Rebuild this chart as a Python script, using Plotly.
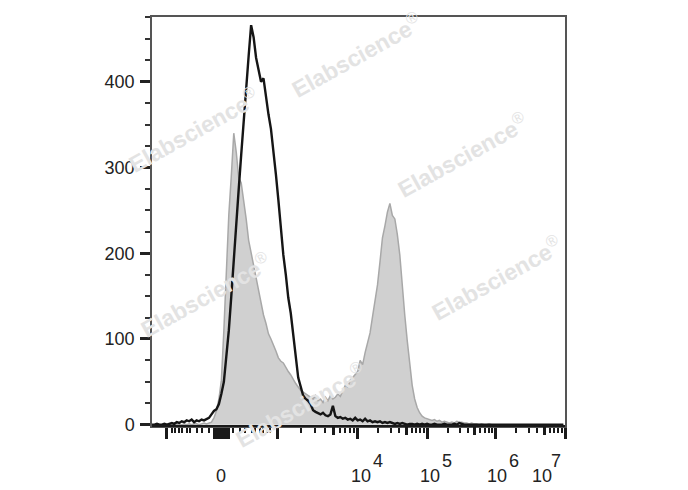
import math
import plotly.graph_objects as go

# ---------------- data (display channel scale 0..1000, bin width 6) ----------------
channel = list(range(0, 1001, 6))  # 167 bins

black_counts = [
    0, 0, 1, 0, 0, 1, 0, 1, 2, 1,
    3, 2, 4, 3, 5, 4, 6, 3, 5, 4,
    6, 5, 7, 8, 12, 16, 18, 24, 36, 50,
    80, 110, 150, 195, 240, 275, 315, 350, 390, 430,
    466, 452, 428, 415, 400, 404, 382, 362, 345, 320,
    292, 262, 228, 198, 175, 148, 130, 102, 80, 55,
    44, 34, 30, 28, 24, 17, 15, 13, 12, 14,
    11, 10, 12, 22, 10, 8, 9, 7, 8, 6,
    7, 5, 8, 5, 6, 4, 7, 4, 5, 3,
    4, 3, 4, 2, 3, 2, 3, 2, 1, 2,
    1, 2, 1, 0, 1, 1, 0, 1, 0, 1,
    0, 1, 0, 0, 1, 0, 0, 0, 1, 0,
    0, 0, 1, 0, 2, 1, 0, 0, 0, 0,
    0, 0, 0, 0, 0, 0, 0, 0, 0, 0,
    0, 0, 0, 0, 0, 0, 0, 0, 0, 0,
    0, 0, 0, 0, 0, 0, 0, 0, 0, 0,
    0, 0, 0, 0, 0, 0, 0,
]

gray_counts = [
    0, 0, 0, 0, 0, 0, 0, 0, 0, 0,
    1, 0, 0, 1, 0, 1, 0, 1, 1, 0,
    1, 2, 1, 2, 3, 8, 16, 30, 52, 110,
    175, 245, 290, 340, 318, 288, 282, 262, 240, 215,
    200, 184, 172, 155, 140, 128, 118, 106, 100, 94,
    86, 78, 74, 72, 66, 62, 58, 52, 48, 44,
    40, 38, 36, 34, 32, 30, 34, 28, 30, 26,
    32, 28, 34, 30, 32, 36, 33, 40, 46, 44,
    52, 55, 58, 62, 75, 70, 84, 95, 107, 126,
    145, 163, 190, 218, 232, 248, 258, 244, 240, 222,
    198, 160, 128, 98, 72, 46, 30, 20, 14, 10,
    8, 7, 6, 5, 6, 4, 5, 3, 4, 3,
    2, 3, 2, 4, 3, 3, 2, 2, 1, 2,
    1, 1, 0, 1, 0, 0, 1, 0, 0, 0,
    0, 0, 0, 0, 0, 0, 0, 0, 0, 0,
    0, 0, 0, 0, 0, 0, 0, 0, 0, 0,
    0, 0, 0, 0, 0, 0, 0,
]

# axis decades (channel positions) and their labels
decade_names = ["-10^3", "0", "10^3", "10^4", "10^5", "10^6", "10^7"]
decade_channels = [36.3, 167.1, 302.7, 497.6, 665.9, 831.7, 1000.0]
label_bases = ["0", "10", "10", "10", "10"]
label_exponents = ["", "4", "5", "6", "7"]

y_major = [0, 100, 200, 300, 400]
y_minor = [v for v in range(25, 476, 25) if v % 100]

# ---------------- tick geometry ----------------
PX = 2.4213  # channels per pixel
zero = decade_channels[1]
near_zero_px = [12, 19, 24, 31, 34, 39, 42, 46, 49]      # +-100..900
cluster_px = [1, 2.5, 4, 5.5, 7]                          # +-10..90 (dense)

major_ticks = list(decade_channels)
major_ticks += [zero + s * p * PX for p in cluster_px for s in (1, -1)]
minor_ticks = [zero + s * p * PX for p in near_zero_px for s in (1, -1)]
medium_ticks = []
for k in range(2, 6):
    a, b = decade_channels[k], decade_channels[k + 1]
    for m in range(2, 10):
        pos = a + math.log10(m) * (b - a)
        (medium_ticks if m == 5 else minor_ticks).append(pos)

FONT = "Liberation Sans, Arial, Helvetica, sans-serif"

fig = go.Figure()
fig.add_trace(go.Scatter(
    x=channel, y=gray_counts, mode="lines", fill="tozeroy",
    fillcolor="#d0d0d0", line=dict(color="#a8a8a8", width=1.5),
    showlegend=False, hoverinfo="skip"))
fig.add_trace(go.Scatter(
    x=channel, y=black_counts, mode="lines",
    line=dict(color="#151515", width=2.4),
    showlegend=False, hoverinfo="skip"))
fig.add_trace(go.Scatter(x=[500], y=[-100], xaxis="x2", mode="markers",
                         marker=dict(opacity=0), showlegend=False, hoverinfo="skip"))

L, R, T, B = 152, 565, 17, 426
W, H = 688, 490

fig.update_layout(
    width=W, height=H,
    margin=dict(l=L, r=W - R, t=T, b=H - B, pad=0),
    paper_bgcolor="white", plot_bgcolor="white",
    font=dict(family=FONT, size=18, color="#222"),
    xaxis=dict(
        range=[0, 1000], showgrid=False, zeroline=False,
        showline=True, linecolor="#555", linewidth=1.5, mirror=True,
        ticks="outside", tickmode="array", tickvals=major_ticks,
        ticklen=11, tickwidth=2.5, tickcolor="#1a1a1a",
        showticklabels=False,
        minor=dict(ticks="outside", tickmode="array", tickvals=minor_ticks,
                   ticklen=5, tickwidth=2, tickcolor="#1a1a1a", showgrid=False),
    ),
    xaxis2=dict(
        range=[0, 1000], overlaying="x", anchor="y", side="bottom",
        showgrid=False, zeroline=False, showline=False,
        ticks="outside", tickmode="array", tickvals=medium_ticks,
        ticklen=8, tickwidth=2.5, tickcolor="#1a1a1a", showticklabels=False,
    ),
    yaxis=dict(
        range=[-1.5, 475.5], showgrid=False, zeroline=False,
        showline=True, linecolor="#555", linewidth=1.5, mirror=True,
        ticks="outside", tickmode="array", tickvals=y_major,
        ticklen=10, tickwidth=2.5, tickcolor="#222",
        ticklabelstandoff=2,
        tickfont=dict(family=FONT, size=18, color="#222"),
        minor=dict(ticks="outside", tickmode="array", tickvals=y_minor,
                   ticklen=5, tickwidth=1.5, tickcolor="#333", showgrid=False),
    ),
)

# thick dark bottom axis line
fig.add_shape(type="line", xref="paper", yref="paper", x0=0, x1=1, y0=0, y1=0,
              line=dict(color="#1a1a1a", width=2.2))

# x tick labels (0, 10^4 ... 10^7)
label_channels = decade_channels[1:2] + decade_channels[3:]
base_shift = [-0.5, 3, 2.5, 2, -23]
exp_shift = [0, 17, 17, 17, 14]
for ch, base, ex, bs, es in zip(label_channels, label_bases, label_exponents, base_shift, exp_shift):
    fig.add_annotation(x=ch, y=-50 / (B - T), xref="x", yref="paper", text=base,
                       showarrow=False, xanchor="center", yanchor="middle", xshift=bs,
                       font=dict(family=FONT, size=18, color="#222"))
    if ex:
        fig.add_annotation(x=ch, y=-35 / (B - T), xref="x", yref="paper", text=ex,
                           showarrow=False, xanchor="center", yanchor="middle",
                           xshift=bs + es, font=dict(family=FONT, size=18, color="#222"))

# watermark (centres in page pixels)
wm_centers = [(193, 130), (356, 55), (462, 155), (205, 295), (496, 278), (300, 405)]
for (px, py) in wm_centers:
    fig.add_annotation(x=(px - L) / (R - L), y=(B - py) / (B - T),
                       xref="paper", yref="paper",
                       text="<b>Elabscience</b><sup>®</sup>", showarrow=False, textangle=-29,
                       xanchor="center", yanchor="middle",
                       font=dict(family=FONT, size=23, color="#e3e3e3"))

fig.write_html(
    "out.html",
    config={"displayModeBar": False},
    post_script="document.body.style.margin='0';document.body.style.overflow='hidden';",
)
